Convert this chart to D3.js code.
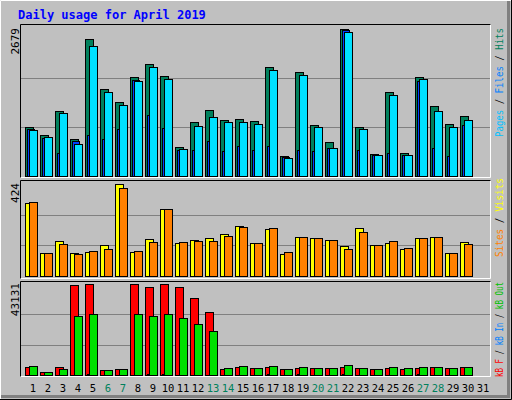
<!DOCTYPE html>
<html><head><meta charset="utf-8">
<script src="https://cdn.jsdelivr.net/npm/d3@7"></script>
<style>body{margin:0;background:#fff}svg{display:block}text{font-family:"DejaVu Sans Mono",monospace}</style>
</head><body><svg id="c" width="512" height="400"></svg>
<script>
const days = d3.range(1, 32);
const weekends = [6, 7, 13, 14, 20, 21, 27, 28];
const hits = [887,742,1184,674,2491,1580,1343,1798,2041,1817,528,978,1203,1020,1039,1002,1981,364,1889,929,619,2679,887,401,1531,419,1798,1270,947,1088,0];
const files = [838,705,1142,578,2363,1525,1288,1725,1981,1762,486,906,1069,978,978,942,1926,328,1835,887,505,2618,851,377,1470,377,1762,1179,887,1015,0];
const pages = [851,692,419,638,742,674,851,1744,1106,869,468,468,632,450,541,468,541,346,468,450,505,2655,468,383,419,377,1725,505,359,924,0];
const visits = [336,105,160,105,110,142,424,110,170,308,151,165,174,193,230,151,217,100,179,174,165,137,221,142,151,123,174,179,105,156,0];
const sites = [341,105,147,100,114,123,406,114,156,308,156,160,160,184,225,151,221,110,179,174,165,123,202,142,160,128,174,179,105,147,0];
const kbF = [3779,1417,3779,42516,43131,2362,2834,43131,41572,43131,41572,36375,29761,2834,3779,3307,3779,2834,3307,3307,3307,3779,3307,2834,3307,2834,3307,3779,3307,3779,0];
const kbIn = [200,200,200,200,700,200,200,200,700,700,200,200,200,200,200,200,700,200,700,200,200,700,200,200,200,200,700,200,200,200,0];
const kbOut = [4252,1417,2834,27872,28817,2362,2834,28817,27872,28817,26927,24093,20786,3307,4252,3307,4252,2834,3779,3307,3307,4724,3307,2834,3779,3307,3779,3779,3307,3779,0];
const maxTop = 2679, maxMid = 424, maxBot = 43131;

const svg = d3.select("#c");
svg.append("rect").attr("width",512).attr("height",400).attr("fill","#C0C0C0");
svg.append("path").attr("d","M0.5,399.5V0.5H511.5").attr("stroke","#fff").attr("fill","none");
svg.append("path").attr("d","M1,396.5H508.5V1").attr("stroke","#808080").attr("stroke-width",3).attr("fill","none");
svg.append("path").attr("d","M0,399.5H511.5V0").attr("stroke","#000").attr("fill","none");

svg.append("text").attr("x",18).attr("y",19).attr("fill","#0000FF").attr("font-weight","bold")
  .attr("font-size",12).text("Daily usage for April 2019");

const x = d3.scaleBand().domain(days).range([25, 490]).paddingInner(0);
const panels = [
  {y0:24, y1:178, top:29, bottom:176, max:maxTop, label:"2679"},
  {y0:180, y1:279, top:184, bottom:276, max:maxMid, label:"424"},
  {y0:281, y1:377, top:284, bottom:375, max:maxBot, label:"43131"}
];
panels.forEach(p => {
  p.y = d3.scaleLinear().domain([0,p.max]).range([p.bottom,p.top]);
  const g = svg.append("g");
  g.append("rect").attr("x",20).attr("y",p.y0).attr("width",471).attr("height",p.y1-p.y0).attr("fill","#C0C0C0");
  g.append("path").attr("d",`M20.5,${p.y1}V${p.y0+0.5}H491`).attr("stroke","#000").attr("fill","none");
  g.append("path").attr("d",`M20.5,${p.y1-0.5}H490.5V${p.y0+0.5}`).attr("stroke","#fff").attr("fill","none");
  [1/3,2/3].forEach(f => g.append("line").attr("x1",21).attr("x2",490).attr("y1",Math.round(p.y(p.max*f))+0.5)
    .attr("y2",Math.round(p.y(p.max*f))+0.5).attr("stroke","#808080"));
  svg.append("text").attr("transform",`translate(19,${p.top-1}) rotate(-90)`).attr("text-anchor","end")
    .attr("font-size",11).attr("fill","#000").text(p.label);
});

function bars(panel, data, dx, w, color) {
  svg.append("g").selectAll("rect").data(data.map((v,i)=>({d:days[i],v})).filter(o=>o.v>0)).join("rect")
    .attr("x", o => x(o.d)+dx+0.5).attr("width", w)
    .attr("y", o => Math.round(panel.y(o.v))+0.5).attr("height", o => panel.bottom - Math.round(panel.y(o.v)))
    .attr("fill", color).attr("stroke","#000").attr("stroke-width",1);
}
bars(panels[0], hits, 0, 8, "#00805C");
bars(panels[0], pages, 2, 7, "#0040FF");
bars(panels[0], files, 4, 8, "#00E0FF");
bars(panels[1], visits, 0, 8, "#FFFF00");
bars(panels[1], sites, 4, 8, "#FF8000");
bars(panels[2], kbF, 0, 8, "#FF0000");
bars(panels[2], kbIn, 2, 2, "#0080FF");
bars(panels[2], kbOut, 4, 8, "#00E000");

svg.append("g").selectAll("text").data(days).join("text")
  .attr("x", d => x(d)+8).attr("y", 392).attr("text-anchor","middle").attr("font-size",10.5)
  .attr("fill", d => weekends.includes(d) ? "#00805C" : "#000").text(d => d);

function legend(yTop, len, parts) {
  const t = svg.append("text").attr("transform",`translate(503,${yTop+len}) rotate(-90)`)
    .attr("font-size",10).attr("textLength",len).attr("lengthAdjust","spacingAndGlyphs");
  parts.forEach(([s,c]) => t.append("tspan").attr("fill",c).text(s));
}
legend(28, 109, [["Pages","#00C0FF"],[" / ","#000"],["Files","#0080FF"],[" / ","#000"],["Hits","#00805C"]]);
legend(178, 79, [["Sites","#FF8000"],[" / ","#000"],["Visits","#FFFF00"]]);
legend(282, 95, [["kB F","#FF0000"],[" / ","#000"],["kB In","#0080FF"],[" / ","#000"],["kB Out","#00C000"]]);
</script></body></html>
